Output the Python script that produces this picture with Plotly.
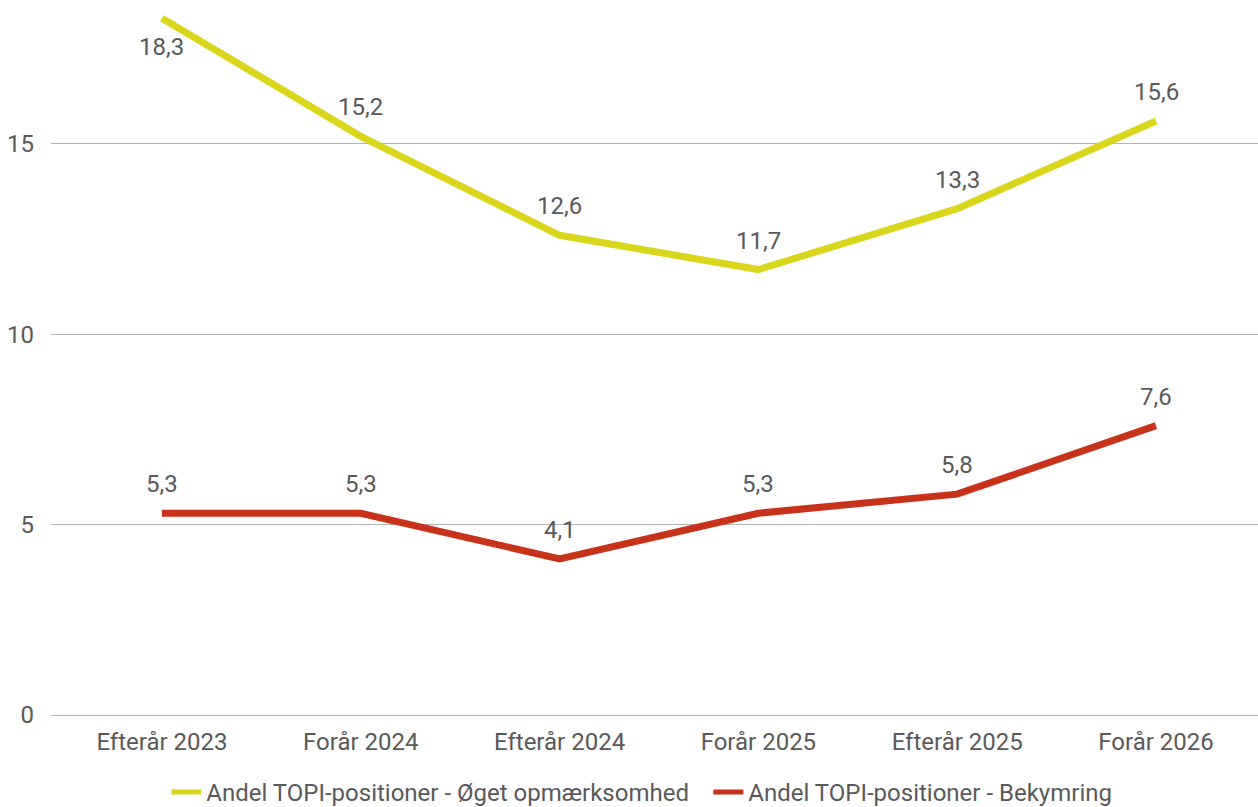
import plotly.graph_objects as go

categories = ["Efterår 2023", "Forår 2024", "Efterår 2024", "Forår 2025", "Efterår 2025", "Forår 2026"]
series_names = ["Andel TOPI-positioner - Øget opmærksomhed", "Andel TOPI-positioner - Bekymring"]
oeget = [18.3, 15.2, 12.6, 11.7, 13.3, 15.6]
bekymring = [5.3, 5.3, 4.1, 5.3, 5.8, 7.6]
colors = ["#D9D51A", "#C8321B"]
y_ticks = [0, 5, 10, 15]

FONT = "Roboto"
TXT = "#595959"
FS = 24

fig = go.Figure()
xs = list(range(len(categories)))
for name, vals, col in zip(series_names, [oeget, bekymring], colors):
    fig.add_trace(go.Scatter(x=xs, y=vals, mode="lines", name=name,
                             line=dict(color=col, width=7),
                             cliponaxis=False))

ymax = 18.78
annotations = []
for vals in [oeget, bekymring]:
    for i, v in enumerate(vals):
        below = v > ymax - 1.0
        annotations.append(dict(x=i, y=v, xref="x", yref="y",
                                text=f"{v:.1f}".replace(".", ","),
                                showarrow=False, yanchor="middle",
                                yshift=-29 if below else 29,
                                font=dict(family=FONT, size=FS, color=TXT)))

fig.update_layout(
    width=1258, height=807,
    margin=dict(l=51, r=0, t=0, b=92),
    paper_bgcolor="white", plot_bgcolor="white",
    font=dict(family=FONT, size=FS, color=TXT),
    showlegend=True,
    legend=dict(orientation="h", xref="container", yref="container",
                x=0.1322, xanchor="left", y=0.018, yanchor="middle",
                font=dict(family=FONT, size=FS, color=TXT),
                itemwidth=30, tracegroupgap=0, itemsizing="constant",
                entrywidth=497, entrywidthmode="pixels"),
    annotations=annotations,
)
fig.update_xaxes(tickmode="array", tickvals=xs, ticktext=categories,
                 range=[-0.558, 5.513], showgrid=False, zeroline=False,
                 showline=False, ticks="", ticklabelstandoff=10,
                 tickfont=dict(family=FONT, size=FS, color=TXT))
fig.update_yaxes(range=[0, ymax], tickvals=y_ticks, showgrid=True,
                 gridcolor="#B4B4B4", gridwidth=1, zeroline=True,
                 zerolinecolor="#B4B4B4", zerolinewidth=1, showline=False,
                 ticks="", ticklabelstandoff=16,
                 tickfont=dict(family=FONT, size=FS, color=TXT))

fig.write_html("out.html", config={"displayModeBar": False},
               post_script="document.body.style.margin='0';document.body.style.overflow='hidden';")
